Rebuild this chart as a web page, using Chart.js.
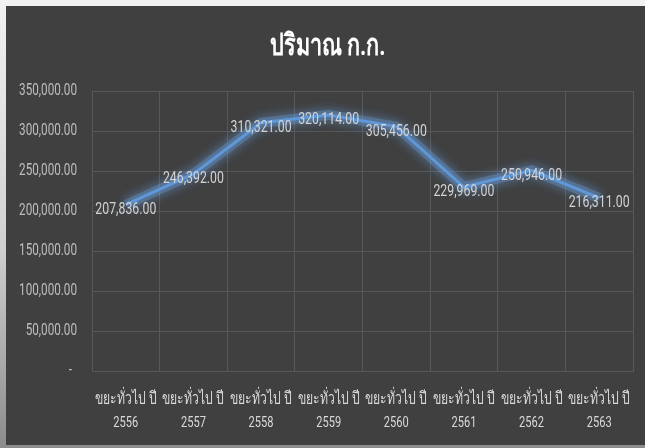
<!DOCTYPE html>
<html>
<head>
<meta charset="utf-8">
<script src="https://cdn.jsdelivr.net/npm/chart.js@4.4.1/dist/chart.umd.min.js"></script>
<style>
  html, body { margin: 0; padding: 0; }
  body {
    width: 645px; height: 448px; overflow: hidden; position: relative;
    background: linear-gradient(to bottom, #f2f2f2 0%, #d0d0d0 55%, #8c8c8c 100%);
  }
  #wrap {
    position: absolute; left: 6px; top: 6px; width: 639px; height: 439px;
    background: #404040;
  }
</style>
</head>
<body>
<div id="wrap"><canvas id="wasteCanvas"></canvas></div>
<script>
const labelPrefix = 'ขยะทั่วไป ปี';
const years = ['2556', '2557', '2558', '2559', '2560', '2561', '2562', '2563'];
const weights = [207836, 246392, 310321, 320114, 305456, 229969, 250946, 216311];
const yMin = 0;
const yMax = 350000;
const yStep = 50000;
const titleText = 'ปริมาณ ก.ก.';

const fmt = v => v.toLocaleString('en-US', { minimumFractionDigits: 2, maximumFractionDigits: 2 });
const family = "Roboto, 'Noto Sans', sans-serif";
const stretch = 1.4;   // the picture's text is narrow and tall

// font size that makes a text as wide as in the picture
const probe = document.createElement('canvas').getContext('2d');
function fitSize(weight, text, targetW) {
    probe.font = weight + ' 20px ' + family;
    return Math.round(200 * targetW / probe.measureText(text).width) / 10;
}
const tickFont = 'normal ' + fitSize('normal', '350,000.00', 58) + 'px ' + family;
const valueFont = 'normal ' + fitSize('normal', '207,836.00', 61) + 'px ' + family;
const xThaiFont = 'normal ' + fitSize('normal', labelPrefix, 62) + 'px ' + family;
const xYearFont = 'normal ' + fitSize('normal', '2563', 25) + 'px ' + family;
const titleFont = 'bold ' + fitSize('bold', titleText, 116) + 'px ' + family;

function tallText(ctx, text, x, y, font, color, align) {
    ctx.save();
    ctx.font = font;
    ctx.fillStyle = color;
    ctx.textAlign = align;
    ctx.textBaseline = 'middle';
    ctx.translate(x, y);
    ctx.scale(1, stretch);
    ctx.fillText(text, 0, 0);
    ctx.restore();
}

// soft blue glow round the line
const glow = {
    id: 'glow',
    beforeDatasetsDraw(chart) {
        const ctx = chart.ctx;
        ctx.save();
        ctx.shadowColor = 'rgba(110, 165, 235, 0.9)';
        ctx.shadowBlur = 12;
    },
    afterDatasetsDraw(chart) {
        chart.ctx.restore();
    }
};

// title, axis labels and value labels, placed from the chart's own scales
const texts = {
    id: 'texts',
    afterDraw(chart) {
        const ctx = chart.ctx;
        const area = chart.chartArea;
        const xs = chart.scales.x;
        const ys = chart.scales.y;

        tallText(ctx, titleText, chart.width / 2 + 2, 41, titleFont, '#ffffff', 'center');

        ys.ticks.forEach(t => {
            const label = t.value === 0 ? '-' : fmt(t.value);
            const x = t.value === 0 ? area.left - 20 : area.left - 15;
            tallText(ctx, label, x, ys.getPixelForValue(t.value), tickFont, '#bfbfbf', 'right');
        });

        years.forEach((yr, i) => {
            const x = xs.getPixelForTick(i);
            tallText(ctx, labelPrefix, x, area.bottom + 29, xThaiFont, '#d9d9d9', 'center');
            tallText(ctx, yr, x, area.bottom + 52, xYearFont, '#d9d9d9', 'center');
        });

        const meta = chart.getDatasetMeta(0);
        meta.data.forEach((pt, i) => {
            tallText(ctx, fmt(weights[i]), pt.x, pt.y + 5, valueFont, '#d4d4d4', 'center');
        });
    }
};

const ctxWaste = document.getElementById('wasteCanvas').getContext('2d');
const wasteChart = new Chart(ctxWaste, {
    type: 'line',
    data: {
        labels: years.map(y => labelPrefix + ' ' + y),
        datasets: [{
            label: titleText,
            data: weights,
            borderColor: '#5f98d8',
            borderWidth: 3,
            pointRadius: 0,
            fill: false,
            tension: 0,
            order: 0
        }, {
            // wide pale halo under the line
            label: 'halo',
            data: weights,
            borderColor: 'rgba(110, 165, 230, 0.3)',
            borderWidth: 10,
            pointRadius: 0,
            fill: false,
            tension: 0,
            order: 1
        }]
    },
    options: {
        responsive: true,
        maintainAspectRatio: false,
        animation: false,
        layout: { padding: { left: 0, right: 12, top: 85, bottom: 10 } },
        plugins: {
            legend: { display: false },
            tooltip: { enabled: false },
            title: { display: false }
        },
        scales: {
            x: {
                offset: true,
                grid: { offset: true, color: '#585858', drawTicks: false },
                border: { color: '#585858' },
                afterFit: s => { s.height = 64; },
                ticks: { display: false, autoSkip: false }
            },
            y: {
                min: yMin,
                max: yMax,
                grid: { color: '#585858', drawTicks: false },
                border: { display: false },
                afterFit: s => { s.width = 86; },
                ticks: { display: false, stepSize: yStep }
            }
        }
    },
    plugins: [glow, texts]
});
</script>
</body>
</html>
